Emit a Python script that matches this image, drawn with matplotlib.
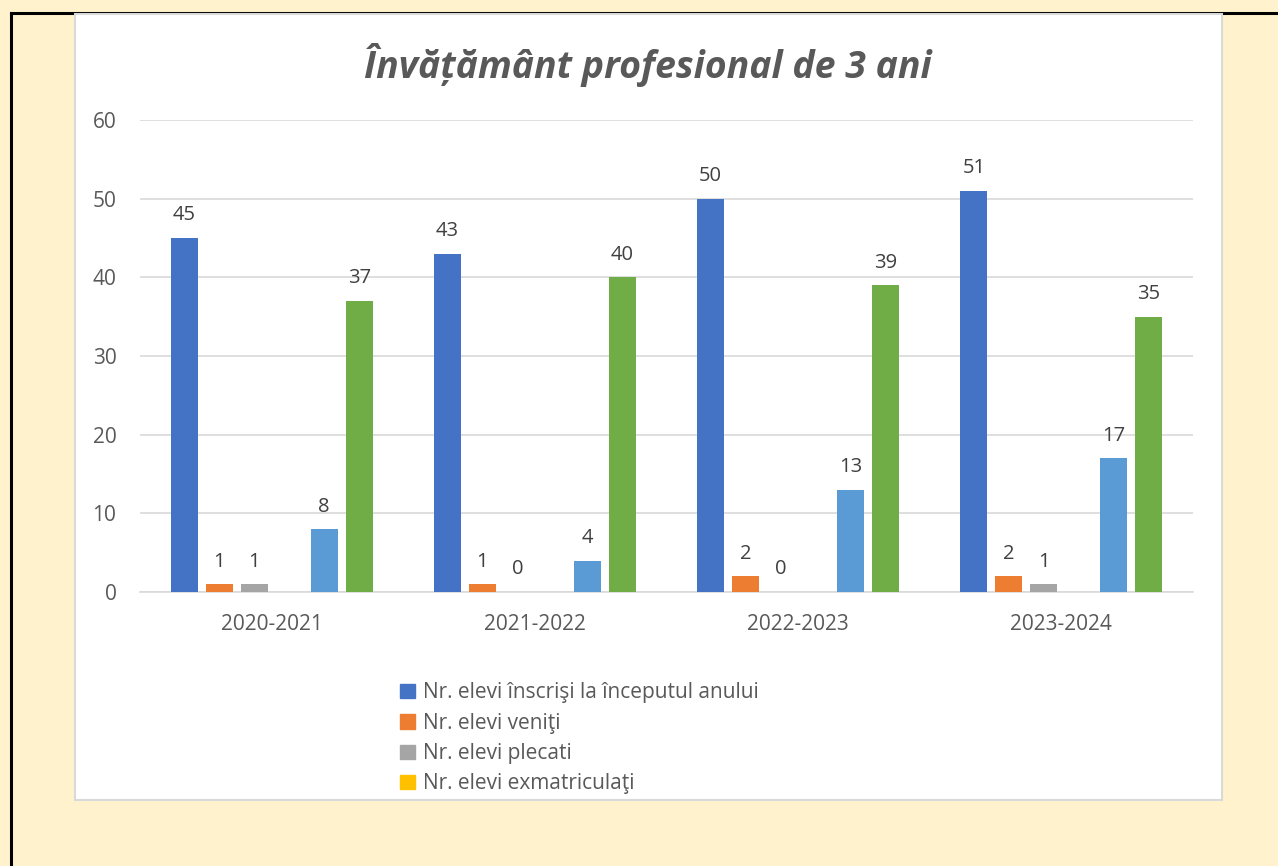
import numpy as np
import matplotlib.pyplot as plt
from matplotlib.patches import Rectangle
from matplotlib.lines import Line2D

plt.rcParams['font.family'] = ['Open Sans', 'DejaVu Sans']

# Données
ani = ["2020-2021", "2021-2022", "2022-2023", "2023-2024"]
inscrisi = [45, 43, 50, 51]
veniti = [1, 1, 2, 2]
plecati = [1, 0, 0, 1]
exmatriculati = [0, 0, 0, 0]
serie5 = [8, 4, 13, 17]
serie6 = [37, 40, 39, 35]

serii = [
    ("Nr. elevi înscrişi la începutul anului", inscrisi, "#4472C4", True),
    ("Nr. elevi veniţi", veniti, "#ED7D31", True),
    ("Nr. elevi plecati", plecati, "#A5A5A5", True),
    ("Nr. elevi exmatriculaţi", exmatriculati, "#FFC000", False),
    ("", serie5, "#5B9BD5", True),
    ("", serie6, "#70AD47", True),
]

W, H = 1278, 866
fig = plt.figure(figsize=(W / 100, H / 100), dpi=100)
fig.patch.set_facecolor("#FFF2CC")

# bordure noire (haut et gauche)
fig.add_artist(Line2D([11 / W, 1], [1 - 13 / H, 1 - 13 / H], color="black", lw=2.2, zorder=-2))
fig.add_artist(Line2D([11 / W, 11 / W], [0, 1 - 13 / H], color="black", lw=2.2, zorder=-2))

# panneau blanc du graphique
fig.add_artist(Rectangle((75 / W, 1 - 800 / H), (1222 - 75) / W, (800 - 14) / H,
                         facecolor="white", edgecolor="#D9D9D9", lw=1.5, zorder=-1))

ax = fig.add_axes([140 / W, 1 - 592 / H, (1193 - 140) / W, (592 - 120) / H])
ax.set_facecolor("none")

x = np.arange(len(ani))
step = 0.133
width = 0.103
for i, (nom, vals, col, etiq) in enumerate(serii):
    pos = x + (i - 2.5) * step
    bars = ax.bar(pos, vals, width, color=col, zorder=3)
    if etiq:
        for p, v in zip(pos, vals):
            ax.annotate(str(v), (p, v), xytext=(0, 9), textcoords="offset points",
                        ha="center", va="bottom", fontsize=14.5, color="#404040")

ax.set_xlim(-0.5, len(ani) - 0.5)
ax.set_ylim(0, 60)
ax.set_yticks(range(0, 61, 10))
ax.set_xticks(x)
ax.set_xticklabels(ani)
ax.grid(axis="y", color="#D9D9D9", lw=1.2, zorder=0)
for s in ["top", "right", "left"]:
    ax.spines[s].set_visible(False)
ax.spines["bottom"].set_color("#D9D9D9")
ax.spines["bottom"].set_linewidth(1.2)
ax.tick_params(axis="both", length=0, labelsize=15, colors="#595959")
ax.tick_params(axis="y", pad=17)
ax.tick_params(axis="x", pad=16)

fig.text(648 / W, 1 - 65 / H, "Învățământ profesional de 3 ani", ha="center", va="center",
         fontsize=27, fontweight="bold", fontstyle="italic", color="#595959")

# légende (seulement les 4 premières séries visibles)
handles = [Rectangle((0, 0), 1, 1, color=c) for n, v, c, e in serii[:4]]
labels = [n for n, v, c, e in serii[:4]]
fig.legend(handles, labels, loc="upper left", bbox_to_anchor=(392 / W, 1 - 674 / H),
           frameon=False, fontsize=15, labelcolor="#595959", handlelength=0.7,
           handleheight=0.7, handletextpad=0.4, labelspacing=0.45, borderaxespad=0)

fig.savefig("out.png", dpi=100, facecolor=fig.get_facecolor())
